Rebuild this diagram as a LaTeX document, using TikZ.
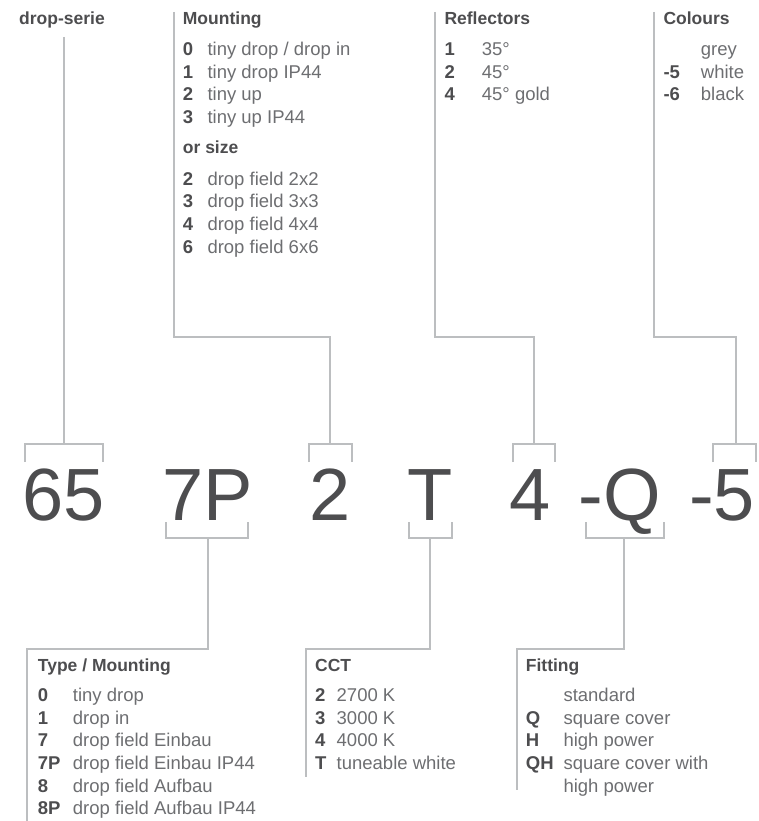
\documentclass[tikz,border=0pt]{standalone}
\usepackage{fontspec}
\setmainfont{Liberation Sans}
\usetikzlibrary{positioning}

\definecolor{linegrey}{HTML}{BCBEC0}
\definecolor{darkgrey}{HTML}{4D4D4F}
\definecolor{midgrey}{HTML}{6D6E71}

\tikzstyle{block} = [anchor=base west, inner sep=0pt, text=midgrey, font=\fontsize{18.5}{22.6}\selectfont]
\tikzstyle{code} = [anchor=base, inner sep=0pt, text=darkgrey, font=\fontsize{74}{80}\selectfont]
\tikzstyle{link} = [draw=linegrey, line width=2pt]

\newcommand{\hd}[1]{{\fontsize{17.5}{22.6}\selectfont\bfseries\color{darkgrey}#1}}
\newcommand{\ky}[1]{\leavevmode{\bfseries\color{darkgrey}#1}}

\begin{document}
\begin{tikzpicture}[x=1pt, y=-1pt]
\useasboundingbox (0,0) rectangle (758,821);

% Blocks above
\node (serie) [block] at (19,25) {\hd{drop-serie}};
\node (mounting) [block] at (182.7,25) {\begin{tabular}[t]{@{}p{24.6pt}@{}l@{}}
\multicolumn{2}{@{}l@{}}{\hd{Mounting}}\\[7.9pt]
\ky{0} & tiny drop / drop in\\
\ky{1} & tiny drop IP44\\
\ky{2} & tiny up\\
\ky{3} & tiny up IP44\\[7.4pt]
\multicolumn{2}{@{}l@{}}{\hd{or size}}\\[9.4pt]
\ky{2} & drop field 2x2\\
\ky{3} & drop field 3x3\\
\ky{4} & drop field 4x4\\
\ky{6} & drop field 6x6
\end{tabular}};
\node (reflectors) [block] at (444.3,25) {\begin{tabular}[t]{@{}p{37.4pt}@{}l@{}}
\multicolumn{2}{@{}l@{}}{\hd{Reflectors}}\\[7.9pt]
\ky{1} & 35°\\
\ky{2} & 45°\\
\ky{4} & 45° gold
\end{tabular}};
\node (colours) [block] at (663.3,25) {\begin{tabular}[t]{@{}p{37.4pt}@{}l@{}}
\multicolumn{2}{@{}l@{}}{\hd{Colours}}\\[7.9pt]
 & grey\\
\ky{-5} & white\\
\ky{-6} & black
\end{tabular}};

% Code
\node (c65) [code] at (64,520) {65};
\node (c7P) [code] at (208,520) {7P};
\node (c2) [code] at (330,520) {2};
\node (cT) [code] at (430.5,520) {T};
\node (c4) [code] at (529.7,520) {4};
\node (cQ) [code] at (620,520) {-Q};
\node (c5) [code] at (722,520) {-5};

% Blocks below
\node (typemount) [block] at (37.7,671) {\begin{tabular}[t]{@{}p{35pt}@{}l@{}}
\multicolumn{2}{@{}l@{}}{\hd{Type / Mounting}}\\[8pt]
\ky{0} & tiny drop\\
\ky{1} & drop in\\
\ky{7} & drop field Einbau\\
\ky{7P} & drop field Einbau IP44\\
\ky{8} & drop field Aufbau\\
\ky{8P} & drop field Aufbau IP44
\end{tabular}};
\node (cct) [block] at (315,671) {\begin{tabular}[t]{@{}p{21.5pt}@{}l@{}}
\multicolumn{2}{@{}l@{}}{\hd{CCT}}\\[8pt]
\ky{2} & 2700 K\\
\ky{3} & 3000 K\\
\ky{4} & 4000 K\\
\ky{T} & tuneable white
\end{tabular}};
\node (fitting) [block] at (525.7,671) {\begin{tabular}[t]{@{}p{37.6pt}@{}l@{}}
\multicolumn{2}{@{}l@{}}{\hd{Fitting}}\\[8pt]
 & standard\\
\ky{Q} & square cover\\
\ky{H} & high power\\
\ky{QH} & square cover with\\
 & high power
\end{tabular}};

% Connector ends
\coordinate (serie foot) at (64,37);
\coordinate (b65) at (64,444);
\coordinate (mounting top) at (174,12);
\coordinate (b2) at (330,444);
\coordinate (reflectors top) at (435,12);
\coordinate (b4) at (534.3,444);
\coordinate (colours top) at (653.5,12);
\coordinate (b5) at (735.5,444);
\coordinate (b7P) at (207.7,538);
\coordinate (bT) at (430.3,538);
\coordinate (bQ) at (624,538);
\coordinate (typemount foot) at (26.7,821);
\coordinate (cct foot) at (306,777);
\coordinate (fitting foot) at (516.7,790);

% Brackets
\draw [link] (25,462) |- (102.7,444) -- (102.7,462);
\draw [link] (309.3,462) |- (351.7,444) -- (351.7,462);
\draw [link] (512.7,462) |- (555,444) -- (555,462);
\draw [link] (713.3,462) |- (756,444) -- (756,462);
\draw [link] (166,522) |- (248,538) -- (248,522);
\draw [link] (409.3,522) |- (452,538) -- (452,522);
\draw [link] (586,522) |- (664,538) -- (664,522);

% Lines
\draw [link] (serie foot) -- (b65);
\draw [link] (mounting top) |- (b2 |- 0,337) -- (b2);
\draw [link] (reflectors top) |- (b4 |- 0,337) -- (b4);
\draw [link] (colours top) |- (b5 |- 0,337) -- (b5);
\draw [link] (b7P) |- (typemount foot |- 0,649) -- (typemount foot);
\draw [link] (bT) |- (cct foot |- 0,649) -- (cct foot);
\draw [link] (bQ) |- (fitting foot |- 0,649) -- (fitting foot);

\end{tikzpicture}
\end{document}
